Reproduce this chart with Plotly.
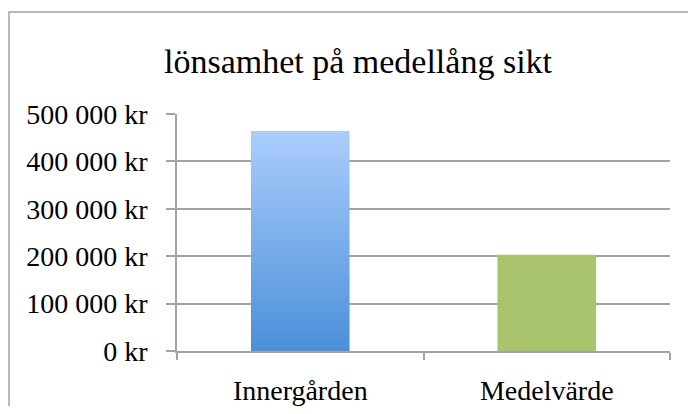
import plotly.graph_objects as go

# data
categories = ["Innergården", "Medelvärde"]
values = [464000, 203000]
y_ticks = [0, 100000, 200000, 300000, 400000, 500000]
y_labels = ["0 kr", "100 000 kr", "200 000 kr", "300 000 kr", "400 000 kr", "500 000 kr"]

FONT = "Liberation Serif"
GRID = "#a3a3a3"
BAR_W = 0.4

# page body adds an 8px margin, so the figure is sized/offset for that
W, H = 680, 398
L, R, T, B = 169, 18, 106, 55
PW, PH = W - L - R, H - T - B

x_pos = list(range(len(categories)))

fig = go.Figure()

# green bar (flat colour)
fig.add_trace(go.Bar(
    x=x_pos[1:], y=values[1:], width=BAR_W,
    marker=dict(color="#a9c46c", line=dict(width=0)),
    hoverinfo="skip",
))

# blue bar with vertical gradient, drawn as filled polygon
x0, x1 = x_pos[0] - BAR_W / 2, x_pos[0] + BAR_W / 2
fig.add_trace(go.Scatter(
    x=[x0, x1, x1, x0, x0],
    y=[0, 0, values[0], values[0], 0],
    mode="lines", line=dict(width=0),
    fill="toself",
    fillgradient=dict(type="vertical",
                      colorscale=[[0, "#4b8fd9"], [1, "#abcdfc"]]),
    hoverinfo="skip",
))

# outer frame around the whole chart (right/bottom edges fall outside the view)
fig.add_shape(type="rect", xref="paper", yref="paper",
              x0=(1 - L) / PW, x1=1.3, y0=-0.6, y1=1 + (T - 4) / PH,
              line=dict(color="#a3a3a3", width=1.5), layer="below")

fig.update_layout(
    width=W, height=H,
    margin=dict(l=L, r=R, t=T, b=B, autoexpand=False),
    paper_bgcolor="white", plot_bgcolor="white",
    showlegend=False,
    font=dict(family=FONT, color="black", size=28),
    title=dict(text="lönsamhet på medellång sikt", x=350 / W, xanchor="center",
               xref="container", y=1 - 53 / H, yanchor="middle", yref="container",
               font=dict(family=FONT, size=34, color="black")),
)
fig.update_xaxes(
    range=[-0.5, 1.5], tickvals=x_pos, ticktext=categories,
    showgrid=False, zeroline=False, automargin=False,
    showline=True, linecolor=GRID, linewidth=1.5,
    ticks="", ticklabelstandoff=14,
    minor=dict(tickmode="array", tickvals=[-0.5, 0.5, 1.5], ticks="outside",
               ticklen=7, tickcolor=GRID, tickwidth=1.5, showgrid=False),
    tickfont=dict(family=FONT, size=28),
)
fig.update_yaxes(
    range=[0, 500000], tickvals=y_ticks, ticktext=y_labels,
    showgrid=True, gridcolor=GRID, gridwidth=1.5, zeroline=False, automargin=False,
    showline=True, linecolor=GRID, linewidth=1.5,
    ticks="outside", ticklen=9, tickcolor=GRID, tickwidth=1.5,
    ticklabelstandoff=13,
    tickfont=dict(family=FONT, size=28),
)

fig.write_html("out.html")
